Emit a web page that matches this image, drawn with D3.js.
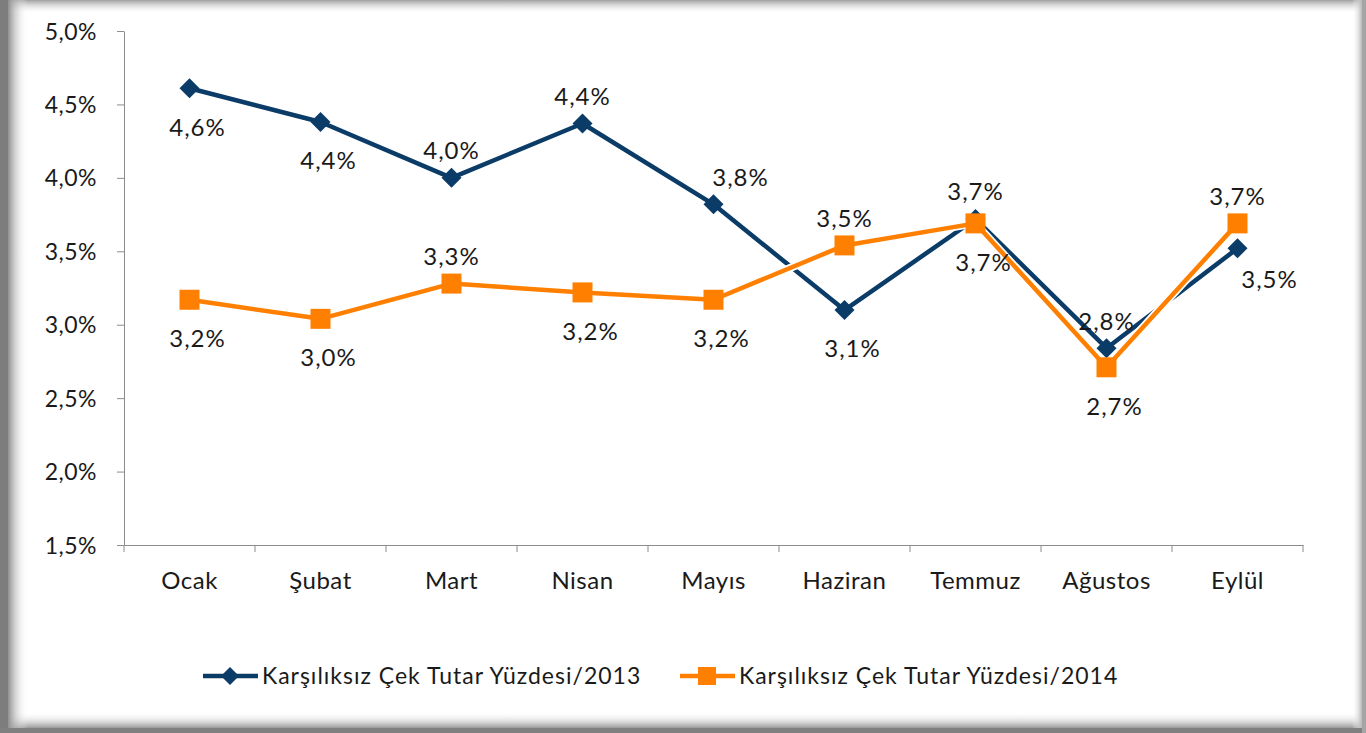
<!DOCTYPE html>
<html>
<head>
<meta charset="utf-8">
<script src="https://d3js.org/d3.v7.min.js"></script>
<style>
  body { margin: 0; background: #fff; }
  text { font-family: Lato, "Open Sans", sans-serif; fill: #1a1a1a; }
</style>
</head>
<body>
<svg id="vis"></svg>
<script>
  var months = ['Ocak', 'Şubat', 'Mart', 'Nisan', 'Mayıs', 'Haziran', 'Temmuz', 'Ağustos', 'Eylül'];
  var y2013 = [4.61, 4.38, 4.00, 4.37, 3.82, 3.10, 3.72, 2.84, 3.52];
  var y2014 = [3.17, 3.04, 3.28, 3.22, 3.17, 3.54, 3.69, 2.71, 3.69];
  var yTicks = [1.5, 2.0, 2.5, 3.0, 3.5, 4.0, 4.5, 5.0];
  var seriesNames = ['Karşılıksız Çek Tutar Yüzdesi/2013', 'Karşılıksız Çek Tutar Yüzdesi/2014'];

  // label placement per point: b = below, a = above, r = below right, ar = above right
  var pos2013 = ['b', 'b', 'a', 'a', 'ar', 'b', 'a', 'a', 'r'];
  var pos2014 = ['b', 'b', 'a', 'b', 'b', 'a', 'b', 'b', 'a'];

  var W = 1366, H = 733;
  var navy = '#0b3c68', orange = '#ff8000';
  var fmt = function(v) { return v.toFixed(1).replace('.', ',') + '%'; };

  var svg = d3.select('#vis').attr('width', W).attr('height', H);

  // frame: shaded edges
  var defs = svg.append('defs');
  function grad(id, x1, y1, x2, y2, c1, c2) {
    var g = defs.append('linearGradient').attr('id', id)
      .attr('x1', x1).attr('y1', y1).attr('x2', x2).attr('y2', y2);
    g.append('stop').attr('offset', 0).attr('stop-color', c1);
    g.append('stop').attr('offset', 1).attr('stop-color', c2).attr('stop-opacity', 0);
  }
  grad('gTop', 0, 0, 0, 1, '#a0a0a0', '#ffffff');
  grad('gLeft', 0, 0, 1, 0, '#909090', '#ffffff');
  grad('gBot', 0, 1, 0, 0, '#999999', '#ffffff');
  grad('gRight', 1, 0, 0, 0, '#b8b8b8', '#ffffff');
  svg.append('rect').attr('width', W).attr('height', H).attr('fill', '#fff');
  svg.append('rect').attr('x', 0).attr('y', 0).attr('width', W).attr('height', 14).attr('fill', 'url(#gTop)');
  svg.append('rect').attr('x', 0).attr('y', 712).attr('width', W).attr('height', 16).attr('fill', 'url(#gBot)');
  svg.append('rect').attr('x', 8).attr('y', 0).attr('width', 20).attr('height', H).attr('fill', 'url(#gLeft)');
  svg.append('rect').attr('x', 1352).attr('y', 0).attr('width', 10).attr('height', H).attr('fill', 'url(#gRight)');
  svg.append('rect').attr('x', 0).attr('y', 0).attr('width', 8).attr('height', H).attr('fill', '#7d7d7d');
  svg.append('rect').attr('x', 0).attr('y', 728).attr('width', W).attr('height', 5).attr('fill', '#808080');
  svg.append('rect').attr('x', 1362).attr('y', 0).attr('width', 4).attr('height', H).attr('fill', '#a5a5a5');

  var x = d3.scaleBand().domain(months).range([124, 1303]);
  var y = d3.scaleLinear().domain([1.5, 5.0]).range([545, 31]);

  var axisColor = '#8c8c8c';

  // y axis
  var yAxis = svg.append('g').attr('transform', 'translate(124,0)')
      .call(d3.axisLeft(y).tickValues(yTicks).tickFormat(fmt).tickSize(7).tickSizeOuter(0));
  yAxis.select('.domain').attr('stroke', axisColor);
  yAxis.selectAll('.tick line').attr('stroke', axisColor);
  yAxis.selectAll('.tick text').attr('font-size', 23).attr('letter-spacing', 0.5)
      .attr('x', -27).attr('dy', '0.35em');

  // x axis
  var xAxis = svg.append('g').attr('transform', 'translate(0,545)')
      .call(d3.axisBottom(x).tickSize(0).tickSizeOuter(0));
  xAxis.select('.domain').attr('stroke', axisColor);
  xAxis.selectAll('.tick text').attr('font-size', 24).attr('letter-spacing', 0.5)
      .attr('y', 36).attr('dy', '0.35em');
  svg.append('g').selectAll('line')
      .data(months.map(function(m) { return x(m); }).concat([x.range()[1]]))
      .enter().append('line')
      .attr('x1', function(d) { return d; }).attr('x2', function(d) { return d; })
      .attr('y1', 545).attr('y2', 552)
      .attr('stroke', axisColor);

  var cx = function(i) { return x(months[i]) + x.bandwidth() / 2; };
  var line = d3.line().x(function(d, i) { return cx(i); }).y(function(d) { return y(d); });

  function diamond(g, px, py, s) {
    g.append('path')
      .attr('d', 'M' + px + ',' + (py - s) + 'L' + (px + s) + ',' + py + 'L' + px + ',' + (py + s) + 'L' + (px - s) + ',' + py + 'Z')
      .attr('fill', navy);
  }
  function square(g, px, py, s) {
    g.append('rect').attr('x', px - s).attr('y', py - s).attr('width', 2 * s).attr('height', 2 * s)
      .attr('fill', orange);
  }

  function drawSeries(vals, color, marker) {
    var g = svg.append('g');
    g.append('path').datum(vals).attr('d', line).attr('fill', 'none')
      .attr('stroke', '#fff').attr('stroke-width', 8).attr('stroke-linejoin', 'round');
    g.append('path').datum(vals).attr('d', line).attr('fill', 'none')
      .attr('stroke', color).attr('stroke-width', 4.5).attr('stroke-linejoin', 'round');
    vals.forEach(function(v, i) { marker(g, cx(i), y(v), 10); });
  }

  drawSeries(y2013, navy, diamond);
  drawSeries(y2014, orange, square);

  function drawLabels(vals, pos) {
    svg.append('g').selectAll('text')
      .data(vals).enter().append('text')
      .attr('font-size', 24)
      .attr('letter-spacing', 1)
      .attr('text-anchor', 'middle')
      .attr('x', function(d, i) {
        var p = pos[i];
        return cx(i) + (p === 'r' ? 32 : p === 'ar' ? 27 : p === 'b' ? 8 : 0);
      })
      .attr('y', function(d, i) {
        var p = pos[i];
        var py = y(d);
        if (p === 'a' || p === 'ar') return py - 27;
        if (p === 'r') return py + 31;
        return py + 39;
      })
      .attr('dy', '0.35em')
      .text(fmt);
  }
  drawLabels(y2013, pos2013);
  drawLabels(y2014, pos2014);

  // legend
  var leg = svg.append('g');
  var lx = [203, 680];
  seriesNames.forEach(function(name, i) {
    var color = i === 0 ? navy : orange;
    leg.append('line').attr('x1', lx[i]).attr('x2', lx[i] + 55).attr('y1', 676).attr('y2', 676)
      .attr('stroke', color).attr('stroke-width', 4.5);
    if (i === 0) diamond(leg, lx[i] + 27, 676, 9);
    else square(leg, lx[i] + 27, 676, 9);
    leg.append('text').attr('x', lx[i] + 59).attr('y', 676).attr('dy', '0.35em')
      .attr('font-size', 23).attr('letter-spacing', 1).text(name);
  });
</script>
</body>
</html>
